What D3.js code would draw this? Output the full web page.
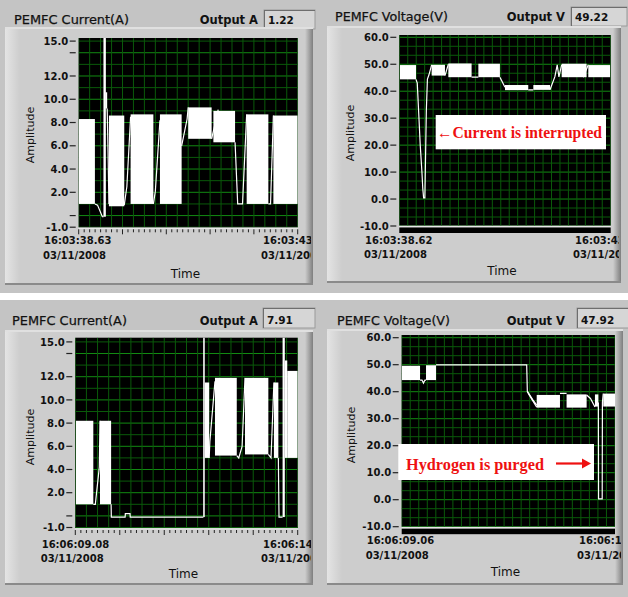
<!DOCTYPE html>
<html><head><meta charset="utf-8">
<script src="https://cdn.jsdelivr.net/npm/d3@7"></script>
<style>html,body{margin:0;padding:0;background:#fff;} svg{display:block;}</style>
</head><body>
<svg id="c" width="628" height="597"></svg>
<script>
// ------------------ DATA ------------------
const currentTicks = [15, 14, 12, 10, 8, 6, 4, 2, 0, -1];
const currentTickLabels = ["15.0", "", "12.0", "10.0", "8.0", "6.0", "4.0", "2.0", "", "-1.0"];
const voltageTicks = [60, 50, 40, 30, 20, 10, 0, -10];
const voltageTickLabels = ["60.0", "50.0", "40.0", "30.0", "20.0", "10.0", "0.0", "-10.0"];

const panelTitles = ["PEMFC Current(A)", "PEMFC Voltage(V)", "PEMFC Current(A)", "PEMFC Voltage(V)"];
const outputLabels = ["Output A", "Output V", "Output A", "Output V"];
const outputValues = ["1.22", "49.22", "7.91", "47.92"];
const startTimes = ["16:03:38.63", "16:03:38.62", "16:06:09.08", "16:06:09.06"];
const endTimes = ["16:03:43.63", "16:03:43.62", "16:06:14.08", "16:06:14.06"];
const dateLabel = "03/11/2008";
const annotationTexts = ["\u2190Current is interrupted", "Hydrogen is purged"];

// time in % of the visible window; bands = [t0, t1, low, high] of the fast switching signal
const current1Bands = [
  [0, 7.4, 1.0, 8.3], [11.3, 12.4, -0.1, 15.5], [12.2, 13.0, 9.2, 10.6],
  [13.8, 20.8, 0.8, 8.6], [23.7, 34.1, 1.0, 8.7], [37.1, 47.0, 1.0, 8.7],
  [50.0, 60.7, 6.6, 9.3], [61.5, 71.4, 6.3, 9.0], [76.7, 86.6, 1.0, 8.7],
  [88.9, 100, 1.0, 8.6]
];
const current1Lines = [
  [[7.4, 1.0], [8.6, 0.9], [10.8, -0.1], [11.4, -0.1]],
  [[13.0, 9.2], [13.4, 5.5], [13.8, 1.0]],
  [[20.8, 0.9], [22.0, 2.5], [23.7, 8.5]],
  [[34.1, 1.0], [35.0, 2.1], [37.1, 8.2]],
  [[47.0, 6.0], [49.5, 8.3], [50.0, 9.3]],
  [[60.7, 6.6], [63.7, 9.1]],
  [[71.4, 6.3], [72.6, 1.0], [74.8, 1.0], [76.7, 8.7]],
  [[86.6, 1.0], [87.6, 1.0], [88.9, 8.6]]
];

const voltage1Bands = [
  [0.3, 7.9, 44.4, 49.7], [15.3, 21.6, 45.8, 49.8], [23.2, 34.2, 45.2, 50.3],
  [37.4, 47.6, 45.2, 50.2], [50.0, 61.0, 40.4, 42.3], [63.4, 71.3, 40.5, 42.3],
  [76.8, 88.6, 45.2, 50.2], [89.4, 99.7, 45.2, 49.7]
];
const voltage1Lines = [
  [[7.9, 44.4], [8.5, 43], [9.3, 30], [9.9, 20], [10.7, 10], [11.1, 4], [11.5, 0.4], [12.1, 0.4],
   [12.4, 15], [12.8, 33], [13.3, 44.5], [14.0, 46], [15.3, 49.8]],
  [[21.6, 45.8], [23.2, 50.0]],
  [[34.2, 45.2], [37.4, 45.2]],
  [[47.6, 45.2], [50.0, 41.5]],
  [[61.0, 40.5], [63.4, 40.5]],
  [[71.3, 40.5], [71.6, 41.2], [73.6, 45.4], [74.7, 49.8], [75.5, 45.3], [76.8, 49.8]],
  [[87.0, 45.2], [89.4, 49.8]]
];

const current2Bands = [
  [0.3, 8.1, 1.0, 8.2], [11.1, 16.1, 1.0, 8.2], [57.5, 58.2, -0.1, 15.5],
  [58.2, 60.2, 5.0, 11.5], [62.8, 72.6, 5.2, 11.9], [76.3, 86.8, 5.3, 11.9],
  [89.3, 91.3, 5.0, 11.5], [93.2, 94.2, -0.1, 15.5], [94.2, 95.3, 5.0, 13.4],
  [95.3, 100, 5.0, 12.5]
];
const current2Lines = [
  [[8.1, 1.0], [9.0, 1.0], [10.8, 4.2], [11.1, 8.2]],
  [[16.1, 1.0], [16.2, -0.1], [22.4, -0.1], [22.5, 0.2], [24.6, 0.2], [24.7, -0.1], [57.6, -0.1]],
  [[60.2, 5.0], [60.5, 6.4], [62.8, 11.6]],
  [[72.6, 5.2], [73.5, 5.0], [75.0, 6.0], [76.3, 11.9]],
  [[86.8, 5.3], [88.0, 5.0], [89.3, 11.5]],
  [[91.3, 5.0], [91.6, -0.1], [93.2, -0.1]]
];

const voltage2Bands = [
  [0, 8.6, 44.3, 49.6], [11.4, 16.1, 44.3, 49.8], [63.3, 74.2, 34.1, 38.8],
  [77.3, 86.7, 34.1, 39.0], [90.6, 92.2, 34.5, 39.0], [94.5, 100, 34.5, 39.3]
];
const voltage2Lines = [
  [[8.6, 44.3], [9.5, 44.3], [10.2, 43.2], [10.9, 44.3], [11.4, 44.3]],
  [[16.1, 49.9], [58.6, 49.9], [58.9, 40.0], [59.6, 39.0], [63.3, 34.3]],
  [[59.0, 40.0], [61.5, 37.0], [63.3, 35.0]],
  [[74.2, 39.4], [77.3, 39.4]],
  [[86.7, 38.8], [88.5, 37.5], [90.6, 34.3]],
  [[92.2, 36.0], [92.3, 0.3], [94.0, 0.3], [94.1, 36.0], [94.5, 39.3]]
];

// ------------------ LAYOUT ------------------
const panels = [
  { i: 0, kind: "current", bands: current1Bands, lines: current1Lines,
    body: [5, 27, 308, 258], titleX: 14, titleY: 24, titleW: 115, outRight: 258, box: [264, 10, 51, 19],
    plot: [78.7, 38, 219, 189.3], yRange: [227.2, 41.1],
    lblX0: 44, lblX1: 263, lblY: 244.3, timeX: 185.5, timeY: 277.7, ampX: 33.5, ampY: 135 },
  { i: 1, kind: "voltage", bands: voltage1Bands, lines: voltage1Lines,
    body: [327, 26, 294, 257], titleX: 335, titleY: 21, titleW: 113, outRight: 565, box: [571, 7, 56, 19],
    plot: [399.3, 35, 211.4, 190.5], yRange: [226, 37.3],
    lblX0: 365, lblX1: 575, lblY: 243.6, timeX: 502, timeY: 275.4, ampX: 353.5, ampY: 133,
    note: { box: [435.7, 115, 170.3, 34.3], x: 437, y: 137.5, w: 165, text: 0 } },
  { i: 2, kind: "current", bands: current2Bands, lines: current2Lines,
    body: [5, 330, 308, 255], titleX: 12, titleY: 324.5, titleW: 115, outRight: 258, box: [263, 308, 52, 20],
    plot: [75.3, 337.7, 222.4, 190.3], yRange: [527.5, 341.9],
    lblX0: 41.7, lblX1: 263, lblY: 547.6, timeX: 183.5, timeY: 578.4, ampX: 33.5, ampY: 437 },
  { i: 3, kind: "voltage", bands: voltage2Bands, lines: voltage2Lines,
    body: [327, 329, 296, 256], titleX: 337, titleY: 324.5, titleW: 113, outRight: 565, box: [577, 308, 52, 20],
    plot: [401.7, 335, 213.3, 191.7], yRange: [526.7, 337.7],
    lblX0: 366.7, lblX1: 579, lblY: 544.3, timeX: 505.5, timeY: 576, ampX: 355, ampY: 435,
    note: { box: [398.3, 444, 195.7, 36], x: 406, y: 469.5, w: 138, text: 1, arrow: [556, 591, 463.5] } }
];

const svg = d3.select("#c");
const defs = svg.append("defs");
function grad(id, c0, c1) {
  const g = defs.append("linearGradient").attr("id", id).attr("x1", 0).attr("x2", 1).attr("y1", 0).attr("y2", 0);
  g.append("stop").attr("offset", 0).attr("stop-color", c0);
  g.append("stop").attr("offset", 1).attr("stop-color", c1);
}
grad("bevelL", "#e4e4e4", "#cdcdcd");
grad("bevelR", "#cdcdcd", "#7e7e7e");

const UI = "'DejaVu Sans', Verdana, sans-serif";
svg.append("rect").attr("x", 0).attr("y", 0).attr("width", 628).attr("height", 293).attr("fill", "#c4c4c4");
svg.append("rect").attr("x", 0).attr("y", 300).attr("width", 628).attr("height", 297).attr("fill", "#c4c4c4");

panels.forEach(p => {
  const g = svg.append("g");
  const [bx, by, bw, bh] = p.body;
  const [px, py, pw, ph] = p.plot;
  const isCur = p.kind === "current";

  // header
  g.append("text").attr("x", p.titleX).attr("y", p.titleY).attr("font-family", UI).attr("font-size", 12.5)
    .attr("fill", "#111").attr("stroke", "#111").attr("stroke-width", 0.25)
    .attr("textLength", p.titleW).attr("lengthAdjust", "spacingAndGlyphs").text(panelTitles[p.i]);
  g.append("text").attr("x", p.outRight).attr("y", p.titleY).attr("font-family", UI).attr("font-size", 11.5)
    .attr("font-weight", "bold").attr("text-anchor", "end").attr("fill", "#111").text(outputLabels[p.i]);
  const [ox, oy, ow, oh] = p.box;
  g.append("rect").attr("x", ox).attr("y", oy).attr("width", ow).attr("height", oh).attr("fill", "#d6d6d6")
    .attr("stroke", "#9a9a9a").attr("stroke-width", 1);
  g.append("line").attr("x1", ox).attr("x2", ox + ow).attr("y1", oy + 0.5).attr("y2", oy + 0.5).attr("stroke", "#6e6e6e");
  g.append("line").attr("x1", ox + 0.5).attr("x2", ox + 0.5).attr("y1", oy).attr("y2", oy + oh).attr("stroke", "#6e6e6e");
  g.append("text").attr("x", ox + 4).attr("y", p.titleY - 0.5).attr("font-family", UI).attr("font-size", 10.5)
    .attr("font-weight", "bold").attr("fill", "#111").text(outputValues[p.i]);

  // body
  g.append("rect").attr("x", bx).attr("y", by).attr("width", bw).attr("height", bh).attr("fill", "#cdcdcd");
  g.append("rect").attr("x", bx).attr("y", by).attr("width", 15).attr("height", bh).attr("fill", "url(#bevelL)");
  g.append("rect").attr("x", bx + bw - 8).attr("y", by + 2).attr("width", 8).attr("height", bh - 2).attr("fill", "url(#bevelR)");
  g.append("rect").attr("x", bx).attr("y", by).attr("width", bw).attr("height", 2).attr("fill", "#e0e0e0");
  g.append("rect").attr("x", bx).attr("y", by + bh - 2).attr("width", bw).attr("height", 2).attr("fill", "#8a8a8a");

  const clipId = "clip" + p.i;
  defs.append("clipPath").attr("id", clipId).append("rect").attr("x", px).attr("y", py).attr("width", pw).attr("height", ph);
  const tclip = "tclip" + p.i;
  defs.append("clipPath").attr("id", tclip).append("rect").attr("x", bx).attr("y", by).attr("width", bw - 2).attr("height", bh);

  const x = d3.scaleLinear().domain([0, 100]).range([px, px + pw]);
  const y = d3.scaleLinear().domain(isCur ? [-1, 15] : [-10, 60]).range(p.yRange);

  // plot background
  g.append("rect").attr("x", px).attr("y", py).attr("width", pw).attr("height", ph).attr("fill", "#000");
  const grid = g.append("g").attr("clip-path", `url(#${clipId})`);
  const hVals = isCur ? d3.range(-1, 16, 1) : d3.range(0, 22).map(k => -10 + k * 10 / 3);
  hVals.forEach((v, k) => {
    const major = isCur ? (Math.round(v) % 2 === 0) : (k % 3 === 0);
    grid.append("line").attr("x1", px).attr("x2", px + pw).attr("y1", y(v)).attr("y2", y(v))
      .attr("stroke", major ? "#128a12" : "#0a5a0a").attr("stroke-width", 1);
  });
  const nV = isCur ? 20 : 25;
  d3.range(0, nV + 1).forEach(k => {
    const t = k * 100 / nV;
    grid.append("line").attr("x1", x(t)).attr("x2", x(t)).attr("y1", py).attr("y2", py + ph)
      .attr("stroke", "#0a5a0a").attr("stroke-width", 1);
  });

  // data
  const data = g.append("g").attr("clip-path", `url(#${clipId})`);
  data.selectAll("rect.band").data(p.bands).join("rect").attr("class", "band")
    .attr("x", d => x(d[0])).attr("width", d => Math.max(1, x(d[1]) - x(d[0])))
    .attr("y", d => y(d[3])).attr("height", d => y(d[2]) - y(d[3])).attr("fill", "#fff");
  const line = d3.line().x(d => x(d[0])).y(d => y(d[1]));
  data.selectAll("path.seg").data(p.lines).join("path").attr("class", "seg").attr("d", line)
    .attr("fill", "none").attr("stroke", "#fff").attr("stroke-width", 1.2);

  // y axis
  const ticks = isCur ? currentTicks : voltageTicks;
  const labels = isCur ? currentTickLabels : voltageTickLabels;
  ticks.forEach((v, k) => {
    g.append("line").attr("x1", px - 9).attr("x2", px - 3).attr("y1", y(v)).attr("y2", y(v))
      .attr("stroke", "#222").attr("stroke-width", 1.2);
    if (labels[k]) g.append("text").attr("x", px - 10.5).attr("y", y(v) + 3.7).attr("text-anchor", "end")
      .attr("font-family", UI).attr("font-size", 10).attr("font-weight", "bold").attr("fill", "#111").text(labels[k]);
  });

  // x axis
  const bottom = py + ph;
  g.append("line").attr("x1", px).attr("x2", px + pw).attr("y1", bottom + 1).attr("y2", bottom + 1)
    .attr("stroke", "#e8e8e8").attr("stroke-width", 1.2);
  if (isCur) {
    d3.range(0, 41).forEach(k => {
      const t = k * 2.5;
      g.append("line").attr("x1", x(t)).attr("x2", x(t)).attr("y1", bottom + 2).attr("y2", bottom + (k % 8 === 0 ? 7 : 5))
        .attr("stroke", "#222").attr("stroke-width", 1);
    });
  } else {
    g.append("rect").attr("x", px).attr("y", bottom + 2).attr("width", pw).attr("height", 5.5).attr("fill", "#000");
  }
  const tl = g.append("g").attr("clip-path", `url(#${tclip})`);
  const fs = { "font-family": UI, "font-size": 10, "font-weight": "bold", fill: "#111" };
  function T(sel, xx, yy, s) { const t = sel.append("text").attr("x", xx).attr("y", yy).text(s); Object.entries(fs).forEach(([k, v]) => t.attr(k, v)); return t; }
  T(tl, p.lblX0, p.lblY, startTimes[p.i]);
  T(tl, p.lblX0 - 1, p.lblY + 14.5, dateLabel);
  T(tl, p.lblX1, p.lblY, endTimes[p.i]);
  T(tl, p.lblX1 - 2, p.lblY + 14.5, dateLabel);
  g.append("text").attr("x", p.timeX).attr("y", p.timeY).attr("text-anchor", "middle").attr("font-family", UI)
    .attr("font-size", 12).attr("fill", "#111").text("Time");
  g.append("text").attr("transform", `translate(${p.ampX},${p.ampY}) rotate(-90)`).attr("text-anchor", "middle")
    .attr("font-family", UI).attr("font-size", 11).attr("fill", "#111").text("Amplitude");

  // annotation
  if (p.note) {
    const n = p.note;
    g.append("rect").attr("x", n.box[0]).attr("y", n.box[1]).attr("width", n.box[2]).attr("height", n.box[3]).attr("fill", "#fff");
    g.append("text").attr("x", n.x).attr("y", n.y).attr("font-family", "'Liberation Serif', 'Times New Roman', serif")
      .attr("font-size", 16).attr("font-weight", "bold").attr("fill", "#ee1111")
      .attr("textLength", n.w).attr("lengthAdjust", "spacingAndGlyphs").text(annotationTexts[n.text]);
    if (n.arrow) {
      const [a0, a1, ay] = n.arrow;
      g.append("line").attr("x1", a0).attr("x2", a1 - 7).attr("y1", ay).attr("y2", ay).attr("stroke", "#ee1111").attr("stroke-width", 2.2);
      g.append("path").attr("d", `M${a1},${ay} L${a1 - 9},${ay - 5} L${a1 - 9},${ay + 5} Z`).attr("fill", "#ee1111");
    }
  }
});
</script>
</body></html>
